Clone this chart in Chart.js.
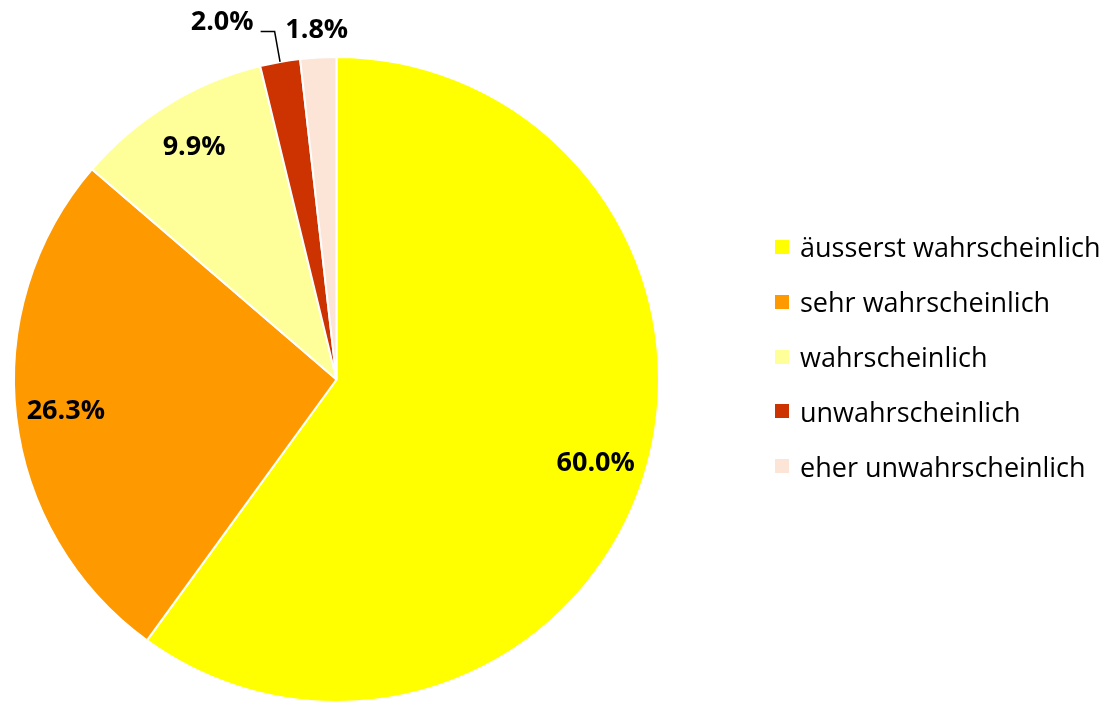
<!DOCTYPE html>
<html>
<head>
<meta charset="utf-8">
<script src="https://cdn.jsdelivr.net/npm/chart.js@4"></script>
<style>
  body { margin: 0; background: #fff; }
  #wrap { position: relative; width: 1111px; height: 703px; overflow: hidden; }
  #legend { position: absolute; left: 775px; top: 219.6px; font-family: "Open Sans", sans-serif; font-size: 27px; color: #000; }
  #legend .item { height: 54.8px; display: flex; align-items: center; white-space: nowrap; }
  #legend .box { width: 14px; height: 14px; margin-right: 11px; flex: none; }
</style>
</head>
<body>
<div id="wrap">
  <canvas id="pie" width="1111" height="703"></canvas>
  <div id="legend"></div>
</div>
<script>
const categories = ['äusserst wahrscheinlich', 'sehr wahrscheinlich', 'wahrscheinlich', 'unwahrscheinlich', 'eher unwahrscheinlich'];
const shares = [60.0, 26.3, 9.9, 2.0, 1.8];
const colors = ['#FFFF00', '#FF9900', '#FFFF99', '#CC3300', '#FCE4D6'];

// build the legend
const legend = document.getElementById('legend');
categories.forEach(function(cat, i) {
  const row = document.createElement('div');
  row.className = 'item';
  row.innerHTML = '<span class="box" style="background:' + colors[i] + '"></span><span>' + cat + '</span>';
  legend.appendChild(row);
});

// percentage labels; the two small slices get their label outside
const sliceLabels = {
  id: 'sliceLabels',
  afterDatasetsDraw(chart) {
    const ctx = chart.ctx;
    const arcs = chart.getDatasetMeta(0).data;
    ctx.save();
    ctx.font = 'bold 27px "Open Sans", sans-serif';
    ctx.fillStyle = '#000';
    ctx.textBaseline = 'middle';
    arcs.forEach(function(arc, i) {
      const p = arc.getProps(['x', 'y', 'startAngle', 'endAngle', 'outerRadius'], true);
      const mid = (p.startAngle + p.endAngle) / 2;
      const R = p.outerRadius;
      const text = shares[i].toFixed(1) + '%';
      if (shares[i] >= 5) {
        ctx.textAlign = 'center';
        ctx.fillText(text, p.x + Math.cos(mid) * R * 0.845, p.y + Math.sin(mid) * R * 0.845);
      } else if (i === 3) {
        // leader line
        const ex = p.x + Math.cos(mid) * R, ey = p.y + Math.sin(mid) * R;
        const kx = p.x + Math.cos(mid) * R * 1.096, ky = p.y + Math.sin(mid) * R * 1.096;
        ctx.strokeStyle = '#000';
        ctx.lineWidth = 1.5;
        ctx.beginPath();
        ctx.moveTo(ex, ey);
        ctx.lineTo(kx, ky);
        ctx.lineTo(kx - 14, ky);
        ctx.stroke();
        ctx.textAlign = 'right';
        ctx.fillText(text, kx - 21, ky - 9);
      } else {
        ctx.textAlign = 'center';
        ctx.fillText(text, p.x + Math.cos(mid) * R * 1.085, p.y + Math.sin(mid) * R * 1.085);
      }
    });
    ctx.restore();
  }
};

new Chart(document.getElementById('pie').getContext('2d'), {
  type: 'pie',
  data: {
    labels: categories,
    datasets: [{
      data: shares,
      backgroundColor: colors,
      borderColor: '#ffffff',
      borderWidth: 2
    }]
  },
  options: {
    responsive: false,
    animation: false,
    layout: { padding: { left: 13, right: 451, top: 56, bottom: 0 } },
    plugins: {
      legend: { display: false },
      tooltip: { enabled: false }
    }
  },
  plugins: [sliceLabels]
});
</script>
</body>
</html>
